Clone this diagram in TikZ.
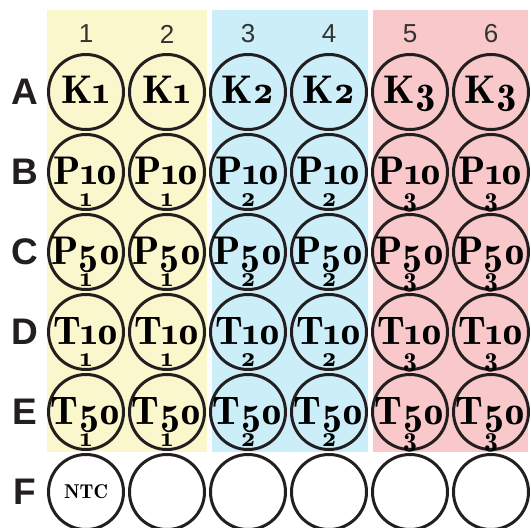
\documentclass[tikz,border=0pt]{standalone}
\usepackage{fontspec}
\newfontfamily\wellfont{lmromandemi10-regular.otf}[Numbers={Proportional,OldStyle}]
\newfontfamily\hsans{Liberation Sans}
\newcommand\tkrn{\kern-1.8pt}
\definecolor{bandY}{RGB}{250,247,204}
\definecolor{bandB}{RGB}{204,238,248}
\definecolor{bandP}{RGB}{248,200,202}
\definecolor{ink}{RGB}{35,31,32}
\definecolor{numgrey}{RGB}{51,51,51}
\begin{document}
\begin{tikzpicture}[x=1pt,y=-1pt,
  well/.style={circle, draw=ink, line width=3pt, minimum size=75pt, inner sep=0pt},
  lbl/.style={font=\wellfont\fontsize{40}{40}\selectfont, text=black, inner sep=0pt, anchor=base},
  sublbl/.style={font=\wellfont\fontsize{28}{28}\selectfont, text=black, inner sep=0pt, anchor=base},
  ntc/.style={font=\wellfont\fontsize{20}{20}\selectfont, text=black, inner sep=0pt},
  colnum/.style={font=\hsans\fontsize{26}{26}\selectfont, text=numgrey, inner sep=0pt},
  rowlet/.style={font=\hsans\bfseries\fontsize{37}{37}\selectfont, text=ink, inner sep=0pt}]
\useasboundingbox (0,0) rectangle (531,528);
% bands
\fill[bandY] (47,10) rectangle (207,452);
\fill[bandB] (212,10) rectangle (368,452);
\fill[bandP] (373,10) rectangle (528,452);
% column numbers
\foreach \c in {1,...,6} {
  \node[colnum] (col-\c) at ({86+(\c-1)*81},34) {\c};
}
% row letters and wells
\foreach \r/\L in {1/A,2/B,3/C,4/D,5/E,6/F} {
  \node[rowlet] (row-\L) at (25,{92+(\r-1)*80}) {\L};
  \foreach \c in {1,...,6} {
    \node[well] (w-\L-\c) at ({86+(\c-1)*81},{92+(\r-1)*80}) {};
  }
}
% row A labels
\foreach \c/\g in {1/1,2/1,3/2,4/2,5/3,6/3} {
  \path (w-A-\c.center) ++(0,11) node[lbl] (t-A-\c) {K\g};
}
% rows B-E labels with subscripts
\foreach \L/\a/\b/\d in {B/P/1/0,C/P/5/0,D/T/1/0,E/T/5/0} {
  \foreach \c/\g in {1/1,2/1,3/2,4/2,5/3,6/3} {
    \path (w-\L-\c.center) ++(0,12) node[lbl] (t-\L-\c) {\a\kern-0.5pt\b\tkrn\d};
    \path (w-\L-\c.center) ++(0,34) node[sublbl] (s-\L-\c) {\g};
  }
}
% NTC
\node[ntc] (t-F-1) at (w-F-1.center) {NTC};
\end{tikzpicture}
\end{document}
